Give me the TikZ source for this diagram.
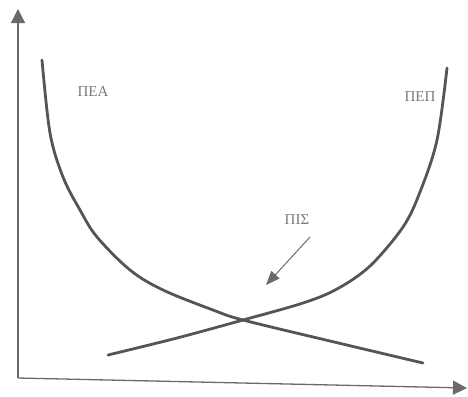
\documentclass[tikz,border=0pt]{standalone}
\usepackage{fontspec}
\setmainfont{Liberation Serif}
\usetikzlibrary{arrows.meta}
\definecolor{curvegray}{HTML}{555555}
\definecolor{axisgray}{HTML}{6A6A6A}
\definecolor{textgray}{HTML}{7A7A7A}
\tikzset{
  axisline/.style={draw=axisgray, line width=1.3bp, -{Triangle[length=14bp,width=14bp]}},
  curveline/.style={draw=curvegray, line width=2.8bp, line cap=round},
  lbl/.style={text=textgray, font=\fontsize{15bp}{17bp}\selectfont, inner sep=0pt},
  pointer/.style={draw=axisgray, line width=1bp, -{Triangle[length=14bp,width=11bp]}}
}
\begin{document}
\begin{tikzpicture}[x=1bp,y=-1bp]
\useasboundingbox (0,0) rectangle (468,396);
\coordinate (O) at (18,378);
\coordinate (Ytop) at (18,9);
\coordinate (Xend) at (467,388);
\draw[axisline] (O) -- (Ytop);
\draw[axisline] (O) -- (Xend);
% ΠΕΑ curve
\draw[curveline] plot[smooth, tension=0.55] coordinates {(42,60) (50,133) (63,177) (80,210) (97,237) (130,270) (163,290) (213,310) (243,320) (330,341) (423,363)};
% ΠΕΠ curve
\draw[curveline] plot[smooth, tension=0.55] coordinates {(108,355) (177,338) (243,320) (303,303) (337,289) (370,266) (403,227) (420,192) (437,140) (447,68)};
\node[lbl] (pea) at (93,92) {ΠΕΑ};
\node[lbl] (pep) at (420,97) {ΠΕΠ};
\node[lbl] (pis) at (297,220) {ΠΙΣ};
\coordinate (pstart) at (310,237);
\coordinate (ptip) at (266,285);
\draw[pointer] (pstart) -- (ptip);
\end{tikzpicture}
\end{document}
